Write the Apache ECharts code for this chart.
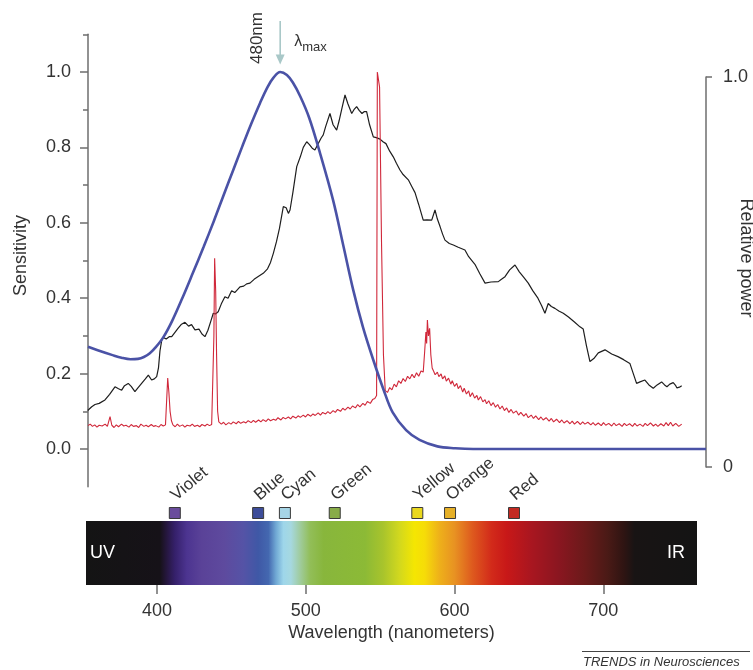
<!DOCTYPE html>
<html><head><meta charset="utf-8">
<script src="https://cdn.jsdelivr.net/npm/echarts@6/dist/echarts.min.js"></script>
<style>html,body{margin:0;padding:0;background:#fff}#c{width:753px;height:670px}</style>
</head><body><div id="c"></div>
<script>
// ---- data ----
const sensitivityTicks = [0, 0.2, 0.4, 0.6, 0.8, 1.0];
const sensitivityMinorTicks = [0.1, 0.3, 0.5, 0.7, 0.9, 1.1];
const powerTicks = [0, 1];
const powerTickLabels = ['0', '1.0'];
const wavelengthTicks = [400, 500, 600, 700];
const lambdaMax = 482.5;
const arrowFromTo = [1.135, 1.02];

const blueSensitivity = [
  [353.5,0.271],[360,0.262],[370,0.249],[376,0.242],[382,0.238],[387,0.239],[391,0.244],[395,0.254],[399,0.270],[404,0.296],
  [410,0.340],[417,0.402],[424,0.468],[431,0.535],[438,0.605],[444,0.668],[451,0.740],[457,0.802],[463,0.862],[469,0.918],
  [474,0.960],[478,0.985],[482.5,1.0],[487,0.992],[491,0.972],[496,0.935],[502,0.878],[509,0.788],[518,0.660],[525,0.537],
  [531.5,0.422],[538,0.324],[545,0.236],[552,0.156],[558,0.097],[567,0.050],[576,0.024],[588,0.007],[600,0.002],[612,0],[768.3,0]
];

const blackPower = [
  [353.3,0.102],[356,0.112],[358.2,0.118],[361,0.121],[364.9,0.13],[368,0.145],[371.6,0.165],[374,0.16],[376.1,0.156],[378,0.168],
  [380.5,0.174],[382.5,0.166],[385,0.152],[387,0.162],[389.5,0.174],[392,0.186],[394,0.196],[396.2,0.183],[398,0.186],[399.6,0.192],
  [400.8,0.215],[401.8,0.26],[403,0.289],[404,0.296],[406,0.292],[408,0.298],[409.7,0.298],[412,0.31],[413.9,0.32],[416,0.33],
  [418.6,0.336],[421,0.326],[423,0.33],[425.3,0.316],[428,0.318],[430,0.305],[432,0.298],[434,0.315],[436,0.34],[437.6,0.36],
  [439,0.358],[440.9,0.364],[443,0.385],[445.4,0.404],[447.5,0.4],[449.9,0.42],[452,0.415],[455.5,0.43],[458,0.432],[460,0.438],
  [462.2,0.44],[465,0.45],[468,0.458],[471.1,0.466],[474,0.478],[476,0.495],[477.9,0.519],[480,0.55],[482,0.585],[484.6,0.643],
  [486.5,0.64],[488,0.625],[489.1,0.634],[491,0.68],[493.6,0.749],[496,0.775],[498,0.8],[500.3,0.815],[502,0.808],[504,0.798],
  [505.8,0.793],[508,0.81],[510,0.825],[511.4,0.833],[513,0.855],[515.9,0.89],[518,0.86],[520.4,0.846],[522,0.87],[524,0.905],
  [526,0.939],[528,0.915],[530.5,0.89],[532,0.9],[533.8,0.908],[535.5,0.898],[537.4,0.89],[539,0.895],[540.5,0.895],[542.5,0.86],
  [545,0.828],[547,0.826],[549.5,0.822],[551.5,0.815],[553.5,0.81],[556,0.79],[558.4,0.775],[560.5,0.758],[562.9,0.74],[565,0.728],
  [568.5,0.714],[571,0.695],[573,0.68],[575.5,0.648],[578.5,0.607],[581,0.608],[584.2,0.607],[586.4,0.634],[588,0.61],[589.8,0.59],
  [591.5,0.57],[593.1,0.554],[596,0.545],[598.7,0.541],[602,0.535],[606.5,0.528],[609,0.51],[613.2,0.49],[616.5,0.465],[620,0.44],
  [624,0.443],[628.9,0.444],[631,0.45],[633.4,0.457],[636.5,0.475],[640.1,0.488],[643,0.47],[646,0.455],[649,0.44],[652,0.42],
  [655.5,0.40],[658,0.38],[660.2,0.36],[662.4,0.386],[664.5,0.378],[666.9,0.373],[669.5,0.366],[672.5,0.36],[676,0.35],[680,0.337],
  [683.7,0.324],[685.9,0.318],[688,0.275],[690.4,0.232],[693,0.24],[696,0.255],[700.5,0.263],[705,0.252],[709.2,0.245],[713,0.237],
  [717.2,0.227],[719.5,0.2],[721.7,0.174],[724,0.178],[727.3,0.183],[730,0.17],[732.9,0.161],[735.5,0.17],[738.5,0.178],[740.5,0.17],
  [742.1,0.165],[744,0.172],[746.3,0.176],[748,0.168],[748.8,0.162],[750.5,0.164],[752,0.168]
];

const redPower = [
  [353.5,0.062],[355,0.066],[356.5,0.060],[358,0.064],[359.5,0.058],[361,0.063],[363,0.061],[365,0.066],[366.5,0.060],[368.3,0.086],
  [369.5,0.063],[371,0.057],[372.5,0.064],[374,0.059],[376,0.066],[377.5,0.061],[379,0.063],[381,0.058],[382.5,0.065],[384,0.060],
  [386,0.062],[387.5,0.057],[389,0.066],[391,0.060],[392.5,0.063],[394,0.059],[396,0.065],[397.5,0.060],[399,0.062],[401,0.058],
  [402.5,0.065],[404,0.061],[405.5,0.064],[406.3,0.068],[407,0.188],[407.8,0.15],[408.6,0.10],[409.5,0.075],[410.5,0.064],[412,0.059],
  [413.5,0.066],[415,0.060],[417,0.064],[418.5,0.058],[420,0.063],[422,0.061],[423.5,0.066],[425,0.060],[427,0.063],[428.5,0.059],
  [430,0.065],[432,0.061],[433.5,0.066],[435,0.062],[436.5,0.065],[437.5,0.07],[438.0,0.30],[438.5,0.506],[439.2,0.42],[439.8,0.25],
  [440.5,0.10],[441.3,0.072],[443,0.066],[444.5,0.071],[446,0.064],[448,0.070],[449.5,0.066],[451,0.072],[453,0.067],[454.5,0.073],
  [456,0.068],[458,0.072],[459.5,0.069],[461,0.075],[463,0.070],[464.5,0.076],[466,0.071],[468,0.077],[469.5,0.072],[471,0.078],
  [473,0.073],[474.5,0.080],[476,0.075],[478,0.079],[479.5,0.076],[481,0.083],[483,0.077],[484.5,0.084],[486,0.080],[488,0.085],
  [489.5,0.080],[491,0.087],[493,0.082],[494.5,0.088],[496,0.084],[498,0.090],[499.5,0.085],[501,0.092],[503,0.087],[504.5,0.093],
  [506,0.089],[508,0.096],[509.5,0.090],[511,0.097],[513,0.093],[514.5,0.099],[516,0.094],[518,0.102],[519.5,0.097],[521,0.105],
  [523,0.100],[524.5,0.108],[526,0.103],[528,0.111],[529.5,0.106],[531,0.114],[533,0.109],[534.5,0.118],[536,0.112],[538,0.121],
  [539.5,0.116],[541,0.126],[543,0.121],[544.5,0.131],[546,0.134],[547.2,0.142],[547.7,1.0],[549.2,0.96],[550.5,0.55],[551.8,0.25],
  [553,0.155],[554.5,0.150],[556,0.163],[557.5,0.157],[559,0.172],[560.5,0.165],[562,0.181],[563.5,0.174],[565,0.187],[566.5,0.179],
  [568,0.193],[569.5,0.186],[571,0.198],[572.5,0.189],[574,0.202],[575.5,0.193],[577,0.207],[578.5,0.204],[579.5,0.26],[580.3,0.31],
  [580.8,0.28],[581.3,0.342],[582,0.30],[582.8,0.32],[583.6,0.25],[584.5,0.215],[585.5,0.206],[586.5,0.197],[588,0.204],[589,0.192],
  [590.5,0.199],[591.5,0.186],[593,0.194],[594,0.180],[595.5,0.188],[597,0.172],[598,0.181],[599.5,0.166],[601,0.174],[602,0.160],
  [603.5,0.168],[605,0.151],[606,0.161],[607.5,0.146],[609,0.154],[610,0.139],[611.5,0.149],[613,0.135],[614.5,0.142],[615.5,0.130],
  [617,0.139],[618.5,0.125],[620,0.131],[621,0.120],[622.5,0.128],[624,0.115],[625.5,0.123],[627,0.111],[628.5,0.118],[630,0.106],
  [631.5,0.114],[633,0.102],[634.5,0.109],[636,0.097],[637.5,0.105],[639,0.095],[641,0.101],[642.5,0.090],[644,0.097],[646,0.087],
  [647.5,0.094],[649,0.083],[651,0.090],[652.5,0.081],[654,0.088],[656,0.078],[657.5,0.085],[659,0.077],[661,0.083],[663,0.074],
  [664.5,0.081],[666,0.072],[668,0.079],[670,0.070],[671.5,0.077],[673,0.069],[675,0.075],[677,0.067],[678.5,0.074],[680,0.066],
  [682,0.073],[684,0.065],[685.5,0.072],[687,0.066],[689,0.071],[691,0.064],[692.5,0.070],[694,0.063],[696,0.069],[698,0.062],
  [699.5,0.070],[701,0.063],[703,0.068],[705,0.061],[706.5,0.069],[708,0.062],[710,0.067],[712,0.060],[713.5,0.068],[715,0.062],
  [717,0.067],[719,0.060],[720.5,0.068],[722,0.061],[724,0.066],[726,0.060],[727.5,0.068],[729,0.062],[731,0.069],[733,0.061],
  [734.5,0.066],[736,0.060],[738,0.067],[740,0.061],[741.5,0.070],[743,0.062],[744.5,0.071],[746,0.061],[748,0.068],[750,0.060],[752,0.066]
];

const colorNames = ['Violet','Blue','Cyan','Green','Yellow','Orange','Red'];
const colorWavelengths = [412, 468, 486, 519.5, 575, 597, 640];
const colorSwatches = ['#6a4c9c','#3d4d9a','#a6d5e6','#88ac48','#ead81e','#e6b028','#c22a22'];
const swatchLevel = 1.125;

const spectrumStops = [
  [352.3,'#141414'],[402,'#161218'],[406,'#24163a'],[412,'#35206a'],[420,'#4c3490'],[430,'#5a4298'],[445,'#5e4a9e'],
  [458,'#5553a6'],[468,'#3f58a6'],[475,'#4468b0'],[480,'#70a8d4'],[485,'#9ed6ea'],[490,'#a6d8e0'],[496,'#a0cca0'],
  [503,'#92be58'],[512,'#88b63c'],[540,'#8cba36'],[552,'#a8c42c'],[563,'#d2d81e'],[573,'#f4e602'],[580,'#f6dc08'],
  [590,'#eeb01a'],[600,'#e89222'],[612,'#de5a1e'],[625,'#d22a1a'],[635,'#c81818'],[652,'#a81620'],[670,'#8a1620'],
  [688,'#6a1a1a'],[703,'#4a1a16'],[714,'#2e1412'],[721,'#181414'],[763,'#141414']
];
const spectrumEndLabels = ['UV', 'IR'];

// ---- chart ----
const FONT = '"Liberation Sans", Arial, Helvetica, sans-serif';
const AX = '#6e6e6e';
const TXT = '#333';
const chart = echarts.init(document.getElementById('c'), null, {renderer: 'canvas'});

const option = {
  animation: false,
  backgroundColor: '#fff',
  textStyle: {fontFamily: FONT},
  grid: [
    {left: 88, top: 34.3, width: 618, height: 452.4, outerBoundsMode: 'none', containLabel: false},
    {left: 88, top: 77, width: 618, height: 390, outerBoundsMode: 'none', containLabel: false},
    {left: 86, top: 505, width: 611, height: 80, outerBoundsMode: 'none', containLabel: false}
  ],
  xAxis: [
    {gridIndex: 0, type: 'value', min: 353.5, max: 768.3, show: false},
    {gridIndex: 1, type: 'value', min: 353.5, max: 768.3, show: false},
    {gridIndex: 2, type: 'value', min: 352.3, max: 763, offset: 3,
      axisLine: {show: false}, splitLine: {show: false},
      axisTick: {show: true, customValues: wavelengthTicks, length: 9, lineStyle: {color: AX, width: 1.5}},
      axisLabel: {customValues: wavelengthTicks, margin: 14, fontSize: 18, color: TXT, fontFamily: FONT},
      name: 'Wavelength (nanometers)', nameLocation: 'middle', nameGap: 36, nameMoveOverlap: false,
      nameTextStyle: {fontSize: 18, color: TXT, fontFamily: FONT}}
  ],
  yAxis: [
    {gridIndex: 0, type: 'value', min: -0.1, max: 1.1, position: 'left',
      axisLine: {show: true, lineStyle: {color: AX, width: 1.5}},
      axisTick: {show: true, customValues: sensitivityTicks, length: 8, lineStyle: {color: AX, width: 1.5}},
      axisLabel: {customValues: sensitivityTicks, formatter: v => v.toFixed(1), margin: 17, fontSize: 18, color: TXT, fontFamily: FONT},
      splitLine: {show: false},
      name: 'Sensitivity', nameLocation: 'middle', nameGap: 58, nameRotate: 90, nameMoveOverlap: false,
      nameTextStyle: {fontSize: 18, color: TXT, fontFamily: FONT, padding: [0, 0, 0, 10]}},
    {gridIndex: 0, type: 'value', min: -0.1, max: 1.1, position: 'left',
      axisLine: {show: false},
      axisTick: {show: true, customValues: sensitivityMinorTicks, length: 5, lineStyle: {color: AX, width: 1.5}},
      axisLabel: {show: false}, splitLine: {show: false}},
    {gridIndex: 1, type: 'value', min: 0, max: 1, position: 'right',
      axisLine: {show: true, lineStyle: {color: AX, width: 1.5}},
      axisTick: {show: true, customValues: powerTicks, length: 6, lineStyle: {color: AX, width: 1.5}},
      axisLabel: {customValues: powerTicks, formatter: v => powerTickLabels[powerTicks.indexOf(v)], margin: 17, fontSize: 18, color: TXT, fontFamily: FONT},
      splitLine: {show: false},
      name: 'Relative power', nameLocation: 'middle', nameGap: 31, nameRotate: -90, nameMoveOverlap: false,
      nameTextStyle: {fontSize: 18, color: TXT, fontFamily: FONT, padding: [0, 28, 0, 0]}},
    {gridIndex: 2, type: 'value', min: 0, max: 1.25, show: false}
  ],
  series: [
    {name: 'Light source', type: 'line', xAxisIndex: 0, yAxisIndex: 0, data: blackPower,
      showSymbol: false, symbol: 'none', smooth: false,
      lineStyle: {color: '#1e1e1e', width: 1.2}, z: 3},
    {name: 'Lamp', type: 'line', xAxisIndex: 0, yAxisIndex: 0, data: redPower,
      showSymbol: false, symbol: 'none', smooth: false,
      lineStyle: {color: '#d0283a', width: 1.1}, z: 4},
    {name: 'Sensitivity', type: 'line', xAxisIndex: 0, yAxisIndex: 0, data: blueSensitivity,
      showSymbol: false, symbol: 'none', smooth: 0.35, clip: false,
      lineStyle: {color: '#4a52a6', width: 2.6}, z: 5},
    {name: 'Spectrum', type: 'custom', xAxisIndex: 2, yAxisIndex: 3, silent: true,
      data: [[spectrumStops[0][0], spectrumStops[spectrumStops.length - 1][0]]],
      renderItem: (params, api) => {
        const a = api.value(0), b = api.value(1);
        const p0 = api.coord([a, 0]), p1 = api.coord([b, 1]);
        const stops = spectrumStops.map(s => ({offset: (s[0] - a) / (b - a), color: s[1]}));
        const midY = (p0[1] + p1[1]) / 2;
        return {type: 'group', children: [
          {type: 'rect', shape: {x: p0[0], y: p1[1], width: p1[0] - p0[0], height: p0[1] - p1[1]},
            style: {fill: new echarts.graphic.LinearGradient(0, 0, 1, 0, stops)}},
          {type: 'text', x: p0[0] + 4, y: midY, style: {text: spectrumEndLabels[0], fill: '#fff', fontSize: 18, fontFamily: FONT, align: 'left', verticalAlign: 'middle'}},
          {type: 'text', x: p1[0] - 12, y: midY, style: {text: spectrumEndLabels[1], fill: '#fff', fontSize: 18, fontFamily: FONT, align: 'right', verticalAlign: 'middle'}}
        ]};
      }},
    {name: 'Colours', type: 'scatter', xAxisIndex: 2, yAxisIndex: 3, silent: true,
      symbol: 'rect', symbolSize: 11,
      data: colorNames.map((n, i) => ({name: n, value: [colorWavelengths[i], swatchLevel], itemStyle: {color: colorSwatches[i]}})),
      itemStyle: {borderColor: '#3a3a3a', borderWidth: 1, opacity: 1},
      label: {show: true, formatter: '{b}', rotate: 40, position: [10, -3], align: 'left', verticalAlign: 'bottom',
        fontSize: 17, color: TXT, fontFamily: FONT}}
  ]
};
chart.setOption(option);

// annotations near the peak arrow
const pk = chart.convertToPixel({xAxisIndex: 0, yAxisIndex: 0}, [lambdaMax, 1.1]);
const a0 = chart.convertToPixel({xAxisIndex: 0, yAxisIndex: 0}, [lambdaMax, arrowFromTo[0]]);
const a1 = chart.convertToPixel({xAxisIndex: 0, yAxisIndex: 0}, [lambdaMax, arrowFromTo[1]]);
const ARROW = '#a9c8c8';
chart.setOption({
  graphic: [
    {type: 'line', shape: {x1: a0[0], y1: a0[1], x2: a1[0], y2: a1[1] - 8}, style: {stroke: ARROW, lineWidth: 1.6}},
    {type: 'polygon', shape: {points: [[a1[0] - 4.5, a1[1] - 10], [a1[0] + 4.5, a1[1] - 10], [a1[0], a1[1]]]}, style: {fill: ARROW}},
    {type: 'text', x: pk[0] - 23, y: 38, rotation: Math.PI / 2,
      style: {text: '480nm', fontSize: 17, fill: TXT, fontFamily: FONT, align: 'center', verticalAlign: 'middle'}},
    {type: 'text', x: pk[0] + 14, y: 42, style: {text: 'λ', fontSize: 16, fill: TXT, fontFamily: FONT, align: 'left', verticalAlign: 'middle'}},
    {type: 'text', x: pk[0] + 22, y: 47, style: {text: 'max', fontSize: 13, fill: TXT, fontFamily: FONT, align: 'left', verticalAlign: 'middle'}},
    {type: 'line', shape: {x1: 582, y1: 651.5, x2: 750, y2: 651.5}, style: {stroke: '#444', lineWidth: 1}},
    {type: 'text', x: 583, y: 662, style: {text: 'TRENDS in Neurosciences', fontSize: 13, fontStyle: 'italic', fill: TXT, fontFamily: FONT, align: 'left', verticalAlign: 'middle'}}
  ]
});
</script>
</body></html>
